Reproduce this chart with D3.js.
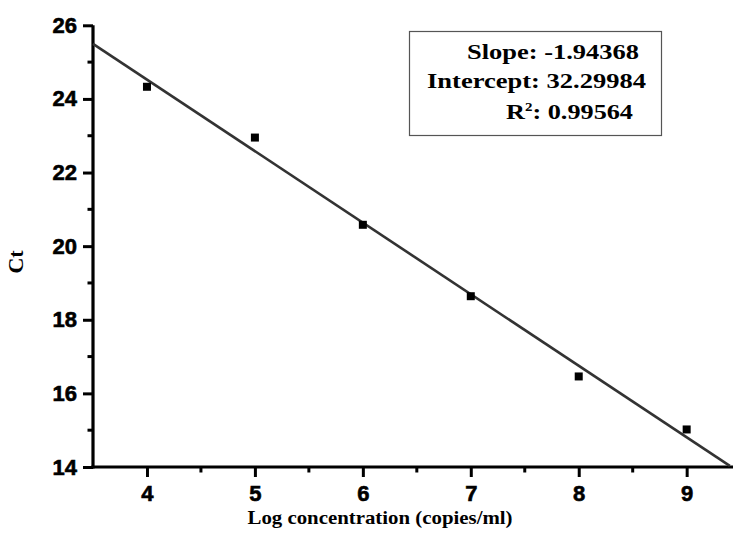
<!DOCTYPE html>
<html>
<head>
<meta charset="utf-8">
<script src="https://cdn.jsdelivr.net/npm/d3@7"></script>
<style>
  html, body { margin: 0; padding: 0; background: #fff; }
  svg { display: block; }
</style>
</head>
<body>
<svg id="chart" width="733" height="546"></svg>
<script>
const logConc = [4, 5, 6, 7, 8, 9];
const ctValues = [24.33, 22.95, 20.58, 18.64, 16.46, 15.02];
const xTicks = [4, 5, 6, 7, 8, 9];
const xMinorTicks = [4.5, 5.5, 6.5, 7.5, 8.5];
const yTicks = [14, 16, 18, 20, 22, 24, 26];
const yMinorTicks = [15, 17, 19, 21, 23, 25];
const fitSlope = -1.94368;
const fitIntercept = 32.29984;
const fitRange = [3.5, 9.4];
const statLines = ["Slope: -1.94368", "Intercept: 32.29984", "R2: 0.99564"];

const svg = d3.select("#chart");
const x = d3.scaleLinear().domain([3.5, 9.42]).range([93, 732]);
const y = d3.scaleLinear().domain([14, 26]).range([467, 25.3]);

const tickFont = "Liberation Sans, Arial, sans-serif";
const serif = "Liberation Serif, Times New Roman, serif";

// Axes
const xAxis = svg.append("g").attr("transform", `translate(0,${y(14)})`)
  .call(d3.axisBottom(x).tickValues(xTicks).tickFormat(d3.format("d")).tickSize(10).tickSizeOuter(0).tickPadding(8));
const yAxis = svg.append("g").attr("transform", `translate(${x(3.5)},0)`)
  .call(d3.axisLeft(y).tickValues(yTicks).tickFormat(d3.format("d")).tickSize(10).tickSizeOuter(0).tickPadding(6));
[xAxis, yAxis].forEach(g => {
  g.attr("font-family", tickFont).attr("font-size", 22).attr("font-weight", "bold");
  g.select(".domain").attr("stroke", "#000").attr("stroke-width", 3.2);
  g.selectAll(".tick line").attr("stroke", "#000").attr("stroke-width", 3);
  g.selectAll(".tick text").attr("fill", "#000").attr("stroke", "#000").attr("stroke-width", 0.6);
});
xAxis.select(".domain").attr("d", `M${x(3.5) - 1.6},0H733`);
yAxis.select(".domain").attr("d", `M0,${y(26)}V${y(14) + 1.6}`);

// Minor ticks
svg.append("g").selectAll("line").data(xMinorTicks).join("line")
  .attr("x1", d => x(d)).attr("x2", d => x(d))
  .attr("y1", y(14)).attr("y2", y(14) + 5.5)
  .attr("stroke", "#000").attr("stroke-width", 3);
svg.append("g").selectAll("line").data(yMinorTicks).join("line")
  .attr("x1", x(3.5) - 5.5).attr("x2", x(3.5))
  .attr("y1", d => y(d)).attr("y2", d => y(d))
  .attr("stroke", "#000").attr("stroke-width", 3);

// Fit line
const lineGen = d3.line().x(d => x(d)).y(d => y(fitIntercept + fitSlope * d));
svg.append("path").datum(fitRange).attr("d", lineGen)
  .attr("fill", "none").attr("stroke", "#333").attr("stroke-width", 2.6);

// Points
svg.append("g").selectAll("rect").data(logConc).join("rect")
  .attr("x", (d) => x(d) - 4).attr("y", (d, i) => y(ctValues[i]) - 4)
  .attr("width", 8).attr("height", 8).attr("fill", "#000");

// Axis titles
svg.append("text").attr("x", 380).attr("y", 524).attr("text-anchor", "middle")
  .attr("textLength", 265).attr("lengthAdjust", "spacingAndGlyphs")
  .attr("font-family", serif).attr("font-weight", "bold").attr("font-size", 19)
  .text("Log concentration (copies/ml)");
svg.append("text").attr("transform", "translate(23,262) rotate(-90)").attr("text-anchor", "middle")
  .attr("font-family", serif).attr("font-weight", "bold").attr("font-size", 22)
  .text("Ct");

// Stats box
svg.append("rect").attr("x", 409.5).attr("y", 31.5).attr("width", 252).attr("height", 104)
  .attr("fill", "#fff").attr("stroke", "#555").attr("stroke-width", 1.2);
const statPos = [
  { x: 467, y: 59, w: 172 },
  { x: 427, y: 88, w: 219 },
  { x: 506, y: 119, w: 127 }
];
statLines.forEach((s, i) => {
  const p = statPos[i];
  const t = svg.append("text").attr("x", p.x).attr("y", p.y)
    .attr("textLength", p.w).attr("lengthAdjust", "spacingAndGlyphs")
    .attr("font-family", serif).attr("font-weight", "bold").attr("font-size", 21);
  if (s.startsWith("R2")) {
    t.append("tspan").text("R");
    t.append("tspan").attr("dy", -8).attr("font-size", 12).text("2");
    t.append("tspan").attr("dy", 8).text(s.slice(2));
  } else {
    t.text(s);
  }
});
</script>
</body>
</html>
